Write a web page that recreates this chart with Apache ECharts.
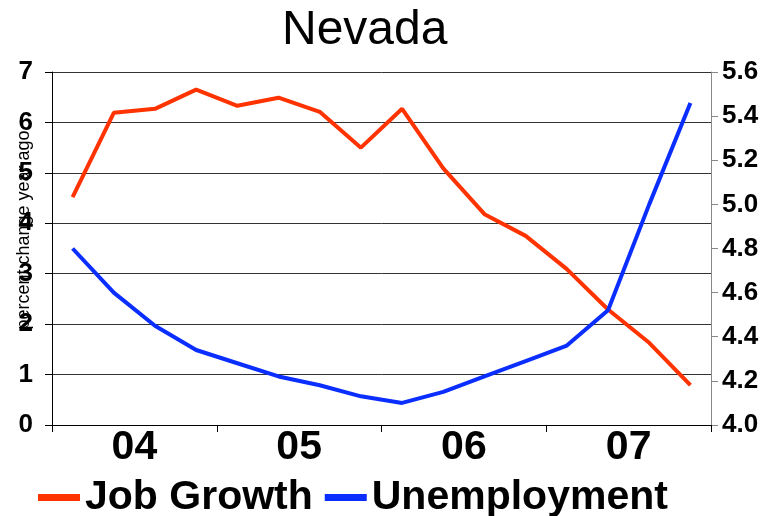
<!DOCTYPE html>
<html>
<head>
<meta charset="utf-8">
<script src="https://cdn.jsdelivr.net/npm/echarts@6/dist/echarts.min.js"></script>
<style>html,body{margin:0;padding:0;background:#fff}#c{width:769px;height:516px}</style>
</head>
<body>
<div id="c"></div>
<script>
const quarters = ['04Q1','04Q2','04Q3','04Q4','05Q1','05Q2','05Q3','05Q4','06Q1','06Q2','06Q3','06Q4','07Q1','07Q2','07Q3','07Q4'];
const years = ['04','05','06','07'];
const jobGrowth = [4.52,6.19,6.27,6.65,6.33,6.49,6.21,5.50,6.27,5.09,4.18,3.75,3.09,2.29,1.63,0.79];
const unemployment = [4.80,4.60,4.45,4.34,4.28,4.22,4.18,4.13,4.10,4.15,4.22,4.29,4.36,4.52,5.00,5.46];

const sans = "'Liberation Sans',Arial,sans-serif";

const chart = echarts.init(document.getElementById('c'));
chart.setOption({
  animation: false,
  backgroundColor: '#fff',
  title: {
    text: 'Nevada', left: 277, top: 2,
    textStyle: {fontFamily: sans, fontSize: 48, fontWeight: 'normal', color: '#000'}
  },
  graphic: [{
    type: 'text', x: 24, y: 230, rotation: Math.PI / 2,
    style: {text: 'percent change year ago', fontFamily: sans, fontSize: 18, fill: '#000', align: 'center', verticalAlign: 'middle'}
  }],
  legend: {
    left: 33, top: 472, itemWidth: 42, itemHeight: 7, itemGap: 12, icon: 'rect',
    textStyle: {fontFamily: sans, fontSize: 41, fontWeight: 'bold', color: '#000'},
    data: ['Job Growth', 'Unemployment']
  },
  grid: {left: 52, right: 58, top: 72, bottom: 91, containLabel: false},
  xAxis: [
    {type: 'category', data: quarters, show: false, boundaryGap: true},
    {type: 'category', data: years, position: 'bottom', boundaryGap: true,
     axisLine: {show: true, lineStyle: {color: '#000', width: 1}},
     axisTick: {show: true, length: 7, lineStyle: {color: '#000'}},
     axisLabel: {margin: 2, fontFamily: sans, fontSize: 41, fontWeight: 'bold', color: '#000'},
     splitLine: {show: false}}
  ],
  yAxis: [
    {type: 'value', min: 0, max: 7, interval: 1, position: 'left',
     axisLine: {show: true, lineStyle: {color: '#000', width: 1}},
     axisTick: {show: true, length: 7, lineStyle: {color: '#000'}},
     axisLabel: {margin: 19, fontFamily: sans, fontSize: 26, fontWeight: 'bold', color: '#000'},
     splitLine: {show: true, lineStyle: {color: '#333', width: 1}}},
    {type: 'value', min: 4.0, max: 5.6, interval: 0.2, position: 'right',
     axisLine: {show: true, lineStyle: {color: '#888', width: 1}},
     axisTick: {show: true, length: 7, lineStyle: {color: '#888'}},
     axisLabel: {margin: 11, fontFamily: sans, fontSize: 26, fontWeight: 'bold', color: '#000',
                 formatter: v => v.toFixed(1)},
     splitLine: {show: false}}
  ],
  series: [
    {name: 'Job Growth', type: 'line', xAxisIndex: 0, yAxisIndex: 0, data: jobGrowth,
     symbol: 'none', color: '#ff3300', lineStyle: {width: 4, color: '#ff3300'}},
    {name: 'Unemployment', type: 'line', xAxisIndex: 0, yAxisIndex: 1, data: unemployment,
     symbol: 'none', color: '#0a2eff', lineStyle: {width: 4, color: '#0a2eff'}}
  ]
});
</script>
</body>
</html>
